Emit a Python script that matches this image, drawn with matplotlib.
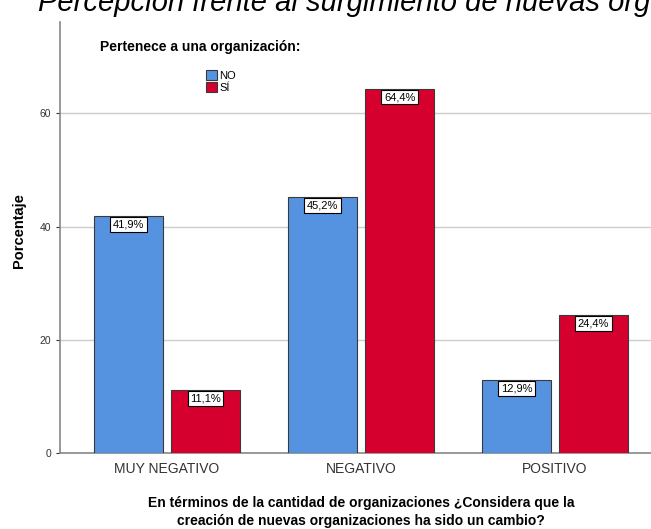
import numpy as np
import matplotlib.pyplot as plt
from matplotlib.patches import Patch

plt.rcParams['font.family'] = ['Liberation Sans', 'DejaVu Sans']

# Datos
categorias = ['MUY NEGATIVO', 'NEGATIVO', 'POSITIVO']
grupos = ['NO', 'SÍ']
valores_no = [41.9, 45.2, 12.9]
valores_si = [11.1, 64.4, 24.4]
yticks = [0, 20, 40, 60]

colores = ['#5592e0', '#d6002f']
W, H = 651, 529

fig = plt.figure(figsize=(W / 100, H / 100), dpi=100)
# el eje se sale por la derecha, como en la imagen original recortada
ax = fig.add_axes([60 / W, (H - 453.3) / H, (662 - 60) / W, (453.3 - 21.7) / H])

x = np.arange(len(categorias))
ancho = 0.356
desp = 0.199

for serie, vals, col, d in zip(grupos, [valores_no, valores_si], colores, [-desp, desp]):
    barras = ax.bar(x + d, vals, width=ancho, color=col, edgecolor='#3a3a3a',
                    linewidth=0.8, zorder=3)
    for b, v in zip(barras, vals):
        ax.annotate(f'{v:.1f}%'.replace('.', ','),
                    xy=(b.get_x() + b.get_width() / 2, v), xytext=(0, -2.5),
                    textcoords='offset points', ha='center', va='top',
                    fontsize=8, zorder=5,
                    bbox=dict(boxstyle='square,pad=0.22', fc='white', ec='black', lw=0.8))

ax.set_xlim(-0.552, 2.552)
ax.set_ylim(0, 76.2)
ax.set_yticks(yticks)
ax.set_xticks(x)
ax.set_xticklabels(categorias, fontsize=10, color='#333333')
ax.tick_params(axis='y', labelsize=7.5, colors='#333333', length=3, width=0.8)
ax.tick_params(axis='x', length=0, pad=6)
ax.grid(axis='y', color='#cccccc', linewidth=1, zorder=0)

for s in ['top', 'right']:
    ax.spines[s].set_visible(False)
for s in ['left', 'bottom']:
    ax.spines[s].set_color('#888888')
    ax.spines[s].set_linewidth(1.2)

ax.set_ylabel('Porcentaje', fontsize=10.5, fontweight='bold')
ax.yaxis.set_label_coords(-0.057, 0.515)
ax.set_xlabel('En términos de la cantidad de organizaciones ¿Considera que la\n'
              'creación de nuevas organizaciones ha sido un cambio?',
              fontsize=10, fontweight='bold', labelpad=15, linespacing=1.3)

# título (recortado por arriba en la imagen)
fig.text(38 / W, 1 - 11 / H, 'Percepción frente al surgimiento de nuevas organizaciones',
         fontsize=21, fontstyle='italic', ha='left', va='baseline')

# leyenda
fig.text(100 / W, 1 - 47 / H, 'Pertenece a una organización:', fontsize=10,
         fontweight='bold', ha='left', va='center')
handles = [Patch(facecolor=c, edgecolor='#3a3a3a', linewidth=0.8) for c in colores]
ax.legend(handles, grupos, loc='upper left', bbox_to_anchor=(198 / W, 1 - 62 / H),
          bbox_transform=fig.transFigure, frameon=False, fontsize=8,
          handlelength=1.0, handleheight=1.0, handletextpad=0.2, labelspacing=0.15,
          borderpad=0.2)

fig.savefig('out.png', dpi=100)
